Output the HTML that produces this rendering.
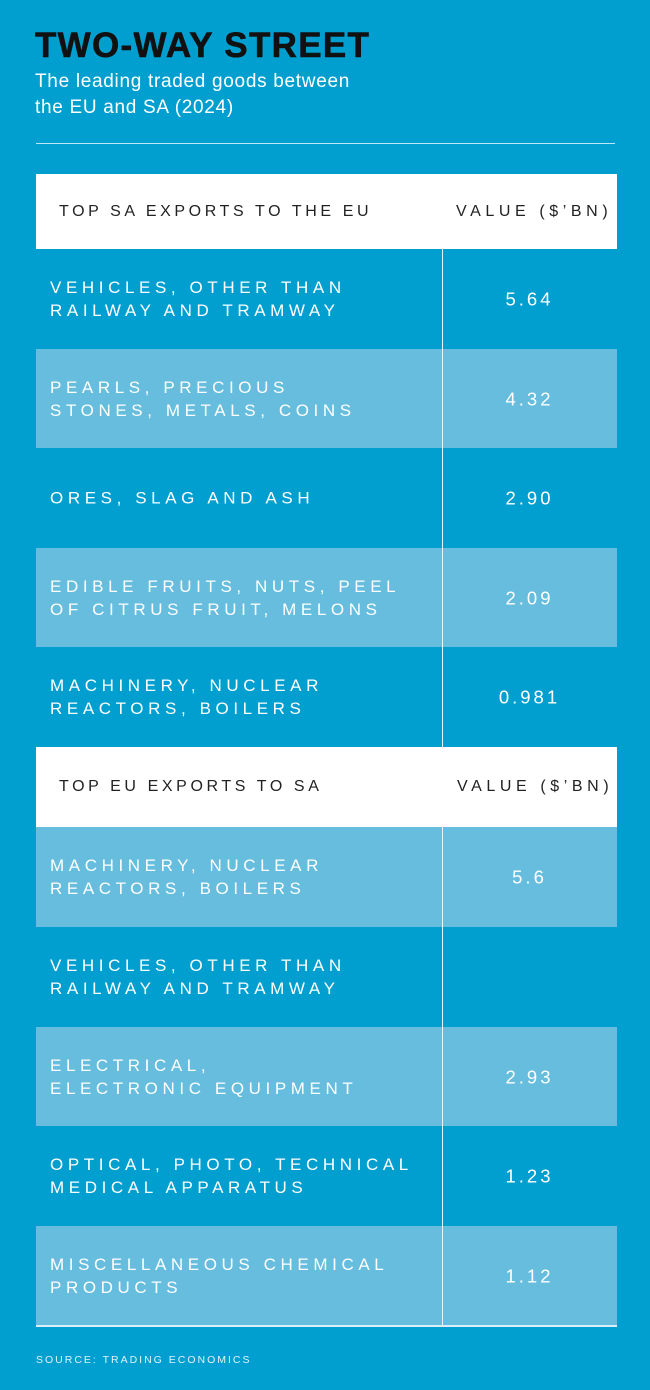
<!DOCTYPE html>
<html><head><style>
*{margin:0;padding:0;box-sizing:border-box}
body{width:650px;height:1390px;background:#009fd0;font-family:"Liberation Sans",sans-serif;position:relative;overflow:hidden;color:#fff}
.a{position:absolute}
h1{position:absolute;left:35px;top:27px;font-size:35px;font-weight:900;color:#111;letter-spacing:1.3px;line-height:38px;-webkit-text-stroke:0.6px #111}
.sub{left:35px;top:69px;font-size:19px;line-height:26px;color:#fff;letter-spacing:0.7px}
.hr{left:36px;top:143px;width:579px;height:1px;background:#bfe6f4}
.hd{left:36px;width:581px;background:#fff;color:#222;font-size:16px;letter-spacing:3.6px}
.hd span{position:absolute;top:50%;transform:translateY(-50%)}
.row{left:36px;width:581px;font-size:17px;letter-spacing:4.6px;line-height:23px}
.row .l{position:absolute;left:14px;top:50%;transform:translateY(-50%)}
.row .v{position:absolute;left:406px;width:175px;text-align:center;top:50%;transform:translateY(-50%);letter-spacing:3px;font-size:18.5px}
.lt{background:#66bdde}
.vl{left:442px;width:1px;background:#e6f5fb}
</style></head><body>
<h1>TWO-WAY STREET</h1>
<div class="a sub">The leading traded goods between<br>the EU and SA (2024)</div>
<div class="a hr"></div>

<div class="a hd" style="top:174px;height:75px"><span style="left:23px">TOP SA EXPORTS TO THE EU</span><span style="left:420px;letter-spacing:4.6px">VALUE ($’BN)</span></div>
<div class="a row" style="top:249px;height:100px"><div class="l">VEHICLES, OTHER THAN<br>RAILWAY AND TRAMWAY</div><div class="v">5.64</div></div>
<div class="a row lt" style="top:349px;height:99px"><div class="l">PEARLS, PRECIOUS<br>STONES, METALS, COINS</div><div class="v">4.32</div></div>
<div class="a row" style="top:448px;height:100px"><div class="l">ORES, SLAG AND ASH</div><div class="v">2.90</div></div>
<div class="a row lt" style="top:548px;height:99px"><div class="l">EDIBLE FRUITS, NUTS, PEEL<br>OF CITRUS FRUIT, MELONS</div><div class="v">2.09</div></div>
<div class="a row" style="top:647px;height:100px"><div class="l">MACHINERY, NUCLEAR<br>REACTORS, BOILERS</div><div class="v">0.981</div></div>

<div class="a hd" style="top:747px;height:80px"><span style="left:23px">TOP EU EXPORTS TO SA</span><span style="left:421px;letter-spacing:4.6px">VALUE ($’BN)</span></div>
<div class="a row lt" style="top:827px;height:100px"><div class="l">MACHINERY, NUCLEAR<br>REACTORS, BOILERS</div><div class="v">5.6</div></div>
<div class="a row" style="top:927px;height:100px"><div class="l">VEHICLES, OTHER THAN<br>RAILWAY AND TRAMWAY</div></div>
<div class="a row lt" style="top:1027px;height:99px"><div class="l">ELECTRICAL,<br>ELECTRONIC EQUIPMENT</div><div class="v">2.93</div></div>
<div class="a row" style="top:1126px;height:100px"><div class="l">OPTICAL, PHOTO, TECHNICAL<br>MEDICAL APPARATUS</div><div class="v">1.23</div></div>
<div class="a row lt" style="top:1226px;height:100px"><div class="l">MISCELLANEOUS CHEMICAL<br>PRODUCTS</div><div class="v">1.12</div></div>

<div class="a vl" style="top:249px;height:498px"></div>
<div class="a vl" style="top:827px;height:499px"></div>
<div class="a" style="left:36px;top:1325px;width:581px;height:2px;background:#d6eff9"></div>
<div class="a" style="left:36px;top:1354px;font-size:10.5px;letter-spacing:2px;color:#e0f3fa">SOURCE: TRADING ECONOMICS</div>
</body></html>
